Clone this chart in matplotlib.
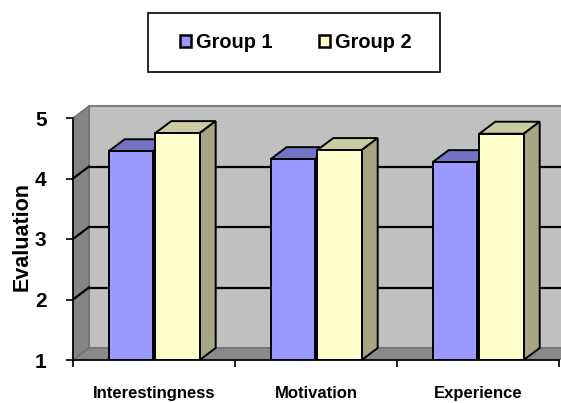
import matplotlib
matplotlib.use("Agg")
import matplotlib.pyplot as plt
from matplotlib.patches import Polygon, Rectangle, Patch
import numpy as np

categories = ["Interestingness", "Motivation", "Experience"]
group1 = [4.45, 4.32, 4.27]
group2 = [4.75, 4.47, 4.74]
series_names = ["Group 1", "Group 2"]
yticks = [1, 2, 3, 4, 5]

front_colors = ["#9999FF", "#FFFFCC"]
top_colors = ["#7373C4", "#CCCCA3"]
side_colors = ["#6363A6", "#A6A685"]

plt.rcParams['font.family'] = ['Liberation Sans', 'DejaVu Sans']
plt.rcParams['font.weight'] = 'bold'

W, H = 561, 403
fig = plt.figure(figsize=(W / 100, H / 100), dpi=100)
ax_left, ax_right, ax_bot, ax_top = 73, 559, 360, 118
ax = fig.add_axes([ax_left / W, (H - ax_bot) / H, (ax_right - ax_left) / W, (ax_bot - ax_top) / H])
ax.set_xlim(0, len(categories))
ax.set_ylim(1, 5)
ax.patch.set_visible(False)

# depth offset in pixels -> data units
depth_px = (16, 12)
ppx = (ax_right - ax_left) / len(categories)
ppy = (ax_bot - ax_top) / 4.0
ddx = depth_px[0] / ppx
ddy = depth_px[1] / ppy
nc = len(categories)

# walls
back = Polygon([(ddx, 1 + ddy), (nc + ddx, 1 + ddy), (nc + ddx, 5 + ddy), (ddx, 5 + ddy)],
               closed=True, facecolor="#C0C0C0", edgecolor="#808080", lw=1.5, zorder=1, clip_on=False)
ax.add_patch(back)
leftw = Polygon([(0, 1), (ddx, 1 + ddy), (ddx, 5 + ddy), (0, 5)], closed=True,
                facecolor="#858585", edgecolor="#707070", lw=1, zorder=1.1, clip_on=False)
ax.add_patch(leftw)
floor = Polygon([(0, 1), (nc, 1), (nc + ddx, 1 + ddy), (ddx, 1 + ddy)], closed=True,
                facecolor="#8A8A8A", edgecolor="#707070", lw=1, zorder=1.1, clip_on=False)
ax.add_patch(floor)
for v in yticks[1:-1]:
    ax.plot([ddx, nc + ddx], [v + ddy, v + ddy], color="black", lw=1.6, zorder=1.5, clip_on=False)
    ax.plot([0, ddx], [v, v + ddy], color="black", lw=1.6, zorder=1.5, clip_on=False)

# bars
bw = 0.274
offs = [-0.280, 0.008]
values = [group1, group2]
z = 3
for i in range(nc):
    for j in range(2):
        x0 = i + 0.5 + offs[j]
        v = values[j][i]
        ax.bar(x0, v - 1, width=bw, bottom=1, align='edge', facecolor=front_colors[j],
               edgecolor="black", lw=1.4, zorder=z + 0.2)
        top = Polygon([(x0, v), (x0 + bw, v), (x0 + bw + ddx, v + ddy), (x0 + ddx, v + ddy)],
                      closed=True, facecolor=top_colors[j], edgecolor="black", lw=1.4, zorder=z, clip_on=False)
        side = Polygon([(x0 + bw, 1), (x0 + bw + ddx, 1 + ddy), (x0 + bw + ddx, v + ddy), (x0 + bw, v)],
                       closed=True, facecolor=side_colors[j], edgecolor="black", lw=1.4, zorder=z, clip_on=False)
        ax.add_patch(top)
        ax.add_patch(side)
        z += 1

# axes / ticks
for s in ["top", "right"]:
    ax.spines[s].set_visible(False)
ax.spines["left"].set_linewidth(1.2)
ax.spines["bottom"].set_linewidth(1.2)
ax.spines["left"].set_zorder(20)
ax.spines["bottom"].set_zorder(20)
ax.set_yticks(yticks)
ax.set_yticklabels([str(t) for t in yticks], fontsize=15, fontweight='bold')
ax.tick_params(axis='y', direction='out', length=5, width=1.2, pad=14)
ax.set_xticks(np.arange(nc + 1))
ax.set_xticklabels([])
ax.set_xticks(np.arange(nc) + 0.5, minor=True)
ax.set_xticklabels(categories, minor=True, fontsize=12, fontweight='bold')
ax.tick_params(axis='x', which='major', direction='out', length=5, width=1.2)
ax.tick_params(axis='x', which='minor', length=0, pad=19)
ax.set_ylabel("Evaluation", fontsize=15.5, fontweight='bold', labelpad=0)
ax.yaxis.set_label_coords(-0.084, 0.51)

# legend box
fig.patches.append(Rectangle((148 / W, 1 - 72 / H), (440 - 148) / W, (72 - 13) / H,
                             transform=fig.transFigure, facecolor="white", edgecolor="black", lw=1.2))
handles = [Patch(facecolor=front_colors[k], edgecolor="black", lw=1.8) for k in range(2)]
fig.legend(handles, series_names, loc="center", bbox_to_anchor=(296 / W, 1 - 43 / H), ncol=2,
           frameon=False, prop={'weight': 'bold', 'size': 14.4}, handlelength=0.55, handleheight=0.55,
           handletextpad=0.25, columnspacing=2.3)

fig.savefig("out.png", dpi=100)
